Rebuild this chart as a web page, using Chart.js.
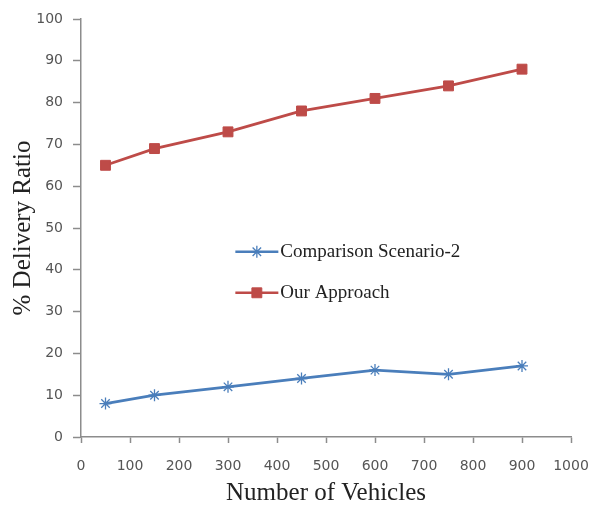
<!DOCTYPE html>
<html>
<head>
<meta charset="utf-8">
<script src="https://cdn.jsdelivr.net/npm/chart.js@4.4.1/dist/chart.umd.min.js"></script>
<style>
    html, body { margin: 0; padding: 0; background: #ffffff; }
    #wrap { width: 594px; height: 508px; }
</style>
</head>
<body>
<div id="wrap"><canvas id="chart" width="594" height="508"></canvas></div>
<script>
const vehicles = [50, 150, 300, 450, 600, 750, 900];
const scenario2 = [8, 10, 12, 14, 16, 15, 17];
const ourApproach = [65, 69, 73, 78, 81, 84, 88];
const seriesNames = ['Comparison Scenario-2', 'Our Approach'];

const blue = '#4a7ebb';
const red = '#be4b48';
const axisGray = '#8c8c8c';

// legend sits inside the plot, drawn by hand like the original Excel one
const insideLegendPlugin = {
    id: 'insideLegendPlugin',
    afterDraw: function (chart) {
        const { ctx, chartArea } = chart;
        const w = chartArea.right - chartArea.left;
        const h = chartArea.bottom - chartArea.top;
        const x0 = chartArea.left + w * 0.315;
        const sample = 43;
        const rows = [chartArea.top + h * 0.557, chartArea.top + h * 0.655];
        ctx.save();
        chart.data.datasets.forEach((ds, i) => {
            const y = rows[i];
            ctx.strokeStyle = ds.borderColor;
            ctx.fillStyle = ds.backgroundColor;
            ctx.lineWidth = 2.5;
            ctx.beginPath();
            ctx.moveTo(x0, y);
            ctx.lineTo(x0 + sample, y);
            ctx.stroke();
            ctx.lineWidth = ds.pointBorderWidth;
            Chart.helpers.drawPoint(ctx, {
                pointStyle: ds.pointStyle,
                radius: ds.pointRadius,
                borderWidth: ds.pointBorderWidth
            }, x0 + sample / 2, y);
            ctx.fillStyle = '#222';
            ctx.font = '19px "Liberation Serif", serif';
            ctx.textBaseline = 'middle';
            ctx.textAlign = 'left';
            ctx.fillText(ds.label, x0 + sample + 2, y);
        });
        ctx.restore();
    }
};

const ctx = document.getElementById('chart');

const config = {
    type: 'line',
    data: {
        datasets: [{
            label: seriesNames[0],
            data: vehicles.map((v, i) => ({ x: v, y: scenario2[i] })),
            borderColor: blue,
            backgroundColor: blue,
            borderWidth: 2.8,
            pointStyle: 'star',
            pointRadius: 6,
            pointBorderWidth: 1.3,
            pointBorderColor: blue,
            tension: 0
        }, {
            label: seriesNames[1],
            data: vehicles.map((v, i) => ({ x: v, y: ourApproach[i] })),
            borderColor: red,
            backgroundColor: red,
            borderWidth: 2.8,
            pointStyle: 'rect',
            pointRadius: 7,
            pointBorderWidth: 1,
            pointBorderColor: red,
            tension: 0
        }]
    },
    options: {
        responsive: false,
        animation: false,
        layout: {
            padding: { left: 0, right: 23, top: 19, bottom: 0 }
        },
        plugins: {
            legend: { display: false },
            tooltip: { enabled: false }
        },
        scales: {
            x: {
                type: 'linear',
                min: 0,
                max: 1000,
                afterFit: function (scale) {
                    scale.height = 71;
                    scale.paddingLeft = 0;
                    scale.paddingRight = 0;
                },
                border: { color: axisGray, width: 1.5 },
                grid: {
                    drawOnChartArea: false,
                    drawTicks: true,
                    tickLength: 6,
                    tickColor: axisGray,
                    tickWidth: 1.5
                },
                ticks: {
                    stepSize: 100,
                    padding: 15,
                    maxRotation: 0,
                    color: '#555',
                    font: { family: '"DejaVu Sans", sans-serif', size: 14 },
                    callback: function (value) { return String(value); }
                },
                title: {
                    display: true,
                    text: 'Number of Vehicles',
                    color: '#222',
                    padding: { top: 0, bottom: 0 },
                    font: { family: '"Liberation Serif", serif', size: 25 }
                }
            },
            y: {
                min: 0,
                max: 100,
                afterFit: function (scale) {
                    scale.width = 81;
                    scale.paddingTop = 0;
                    scale.paddingBottom = 0;
                },
                border: { color: axisGray, width: 1.5 },
                grid: {
                    drawOnChartArea: false,
                    drawTicks: true,
                    tickLength: 8,
                    tickColor: axisGray,
                    tickWidth: 1.5
                },
                ticks: {
                    stepSize: 10,
                    padding: 10,
                    color: '#555',
                    font: { family: '"DejaVu Sans", sans-serif', size: 14 }
                },
                title: {
                    display: true,
                    text: '% Delivery Ratio',
                    color: '#222',
                    padding: { top: 8, bottom: 0 },
                    font: { family: '"Liberation Serif", serif', size: 25 }
                }
            }
        }
    },
    plugins: [insideLegendPlugin]
};

const myChart = new Chart(ctx, config);
</script>
</body>
</html>
